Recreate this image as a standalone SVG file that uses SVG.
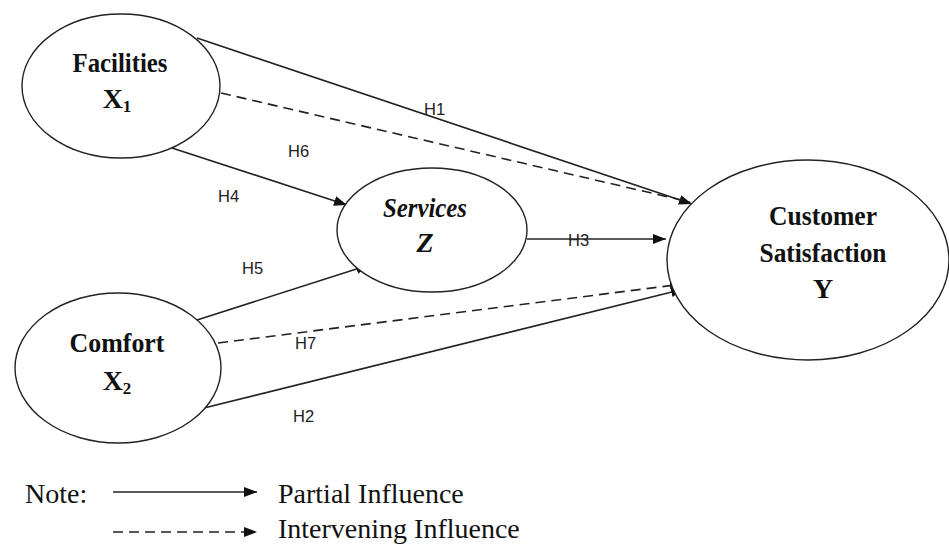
<svg xmlns="http://www.w3.org/2000/svg" width="949" height="544" viewBox="0 0 949 544">
<defs>
<style>
.node{fill:#fff;stroke:#222;stroke-width:1.4}
.nt{font-family:"Liberation Serif","Times New Roman",serif;font-weight:bold;font-size:28px;fill:#111;text-anchor:middle}
.it{font-style:italic}
.lbl{font-family:"Liberation Sans",Arial,sans-serif;font-size:16.5px;fill:#222}
.edge{stroke:#222;stroke-width:1.6;fill:none}
.dash{stroke-dasharray:10,6}
.note{font-family:"Liberation Serif","Times New Roman",serif;font-size:28px;fill:#111}
</style>
<marker id="ah" markerUnits="userSpaceOnUse" markerWidth="14" markerHeight="12" refX="13" refY="5" orient="auto">
<path d="M0,0 L13,5 L0,10 z" fill="#111"/>
</marker>
</defs>
<rect width="949" height="544" fill="#fff"/>
<g id="connectors">
<line class="edge" x1="197" y1="38" x2="692" y2="204" marker-end="url(#ah)"/>
<line class="edge dash" x1="221" y1="93" x2="690" y2="202"/>
<line class="edge" x1="172" y1="148" x2="347" y2="205" marker-end="url(#ah)"/>
<line class="edge" x1="527" y1="239" x2="666" y2="239" marker-end="url(#ah)"/>
<line class="edge" x1="197" y1="320" x2="369" y2="265" marker-end="url(#ah)"/>
<line class="edge dash" x1="218" y1="343" x2="683" y2="284" marker-end="url(#ah)"/>
<line class="edge" x1="200" y1="409" x2="684" y2="289" marker-end="url(#ah)"/>
</g>
<g id="facilities">
<ellipse class="node" cx="121" cy="86" rx="99" ry="72"/>
<text class="nt" x="120" y="72" textLength="95" lengthAdjust="spacingAndGlyphs">Facilities</text>
<text class="nt" x="117" y="108">X<tspan font-size="17" dy="4">1</tspan></text>
</g>
<g id="services">
<ellipse class="node" cx="432" cy="230" rx="95" ry="62"/>
<text class="nt it" x="425" y="217" textLength="84" lengthAdjust="spacingAndGlyphs">Services</text>
<text class="nt it" x="425" y="252">Z</text>
</g>
<g id="satisfaction">
<ellipse class="node" cx="808" cy="260" rx="141" ry="100"/>
<text class="nt" x="823" y="225" textLength="108" lengthAdjust="spacingAndGlyphs">Customer</text>
<text class="nt" x="823" y="262" textLength="127" lengthAdjust="spacingAndGlyphs">Satisfaction</text>
<text class="nt" x="823" y="298">Y</text>
</g>
<g id="comfort">
<ellipse class="node" cx="118" cy="368" rx="103" ry="75"/>
<text class="nt" x="117" y="352" textLength="95" lengthAdjust="spacingAndGlyphs">Comfort</text>
<text class="nt" x="117" y="390">X<tspan font-size="17" dy="4">2</tspan></text>
</g>
<g id="labels">
<text class="lbl" x="424" y="115">H1</text>
<text class="lbl" x="288" y="157">H6</text>
<text class="lbl" x="218" y="202">H4</text>
<text class="lbl" x="568" y="246">H3</text>
<text class="lbl" x="242" y="274">H5</text>
<text class="lbl" x="295" y="349">H7</text>
<text class="lbl" x="293" y="422">H2</text>
</g>
<g id="legend">
<text class="note" x="25" y="503">Note:</text>
<line class="edge" x1="113" y1="492" x2="257" y2="492" marker-end="url(#ah)"/>
<text class="note" x="278" y="503">Partial Influence</text>
<line class="edge dash" x1="113" y1="532" x2="257" y2="532" marker-end="url(#ah)"/>
<text class="note" x="278" y="538">Intervening Influence</text>
</g>
</svg>
